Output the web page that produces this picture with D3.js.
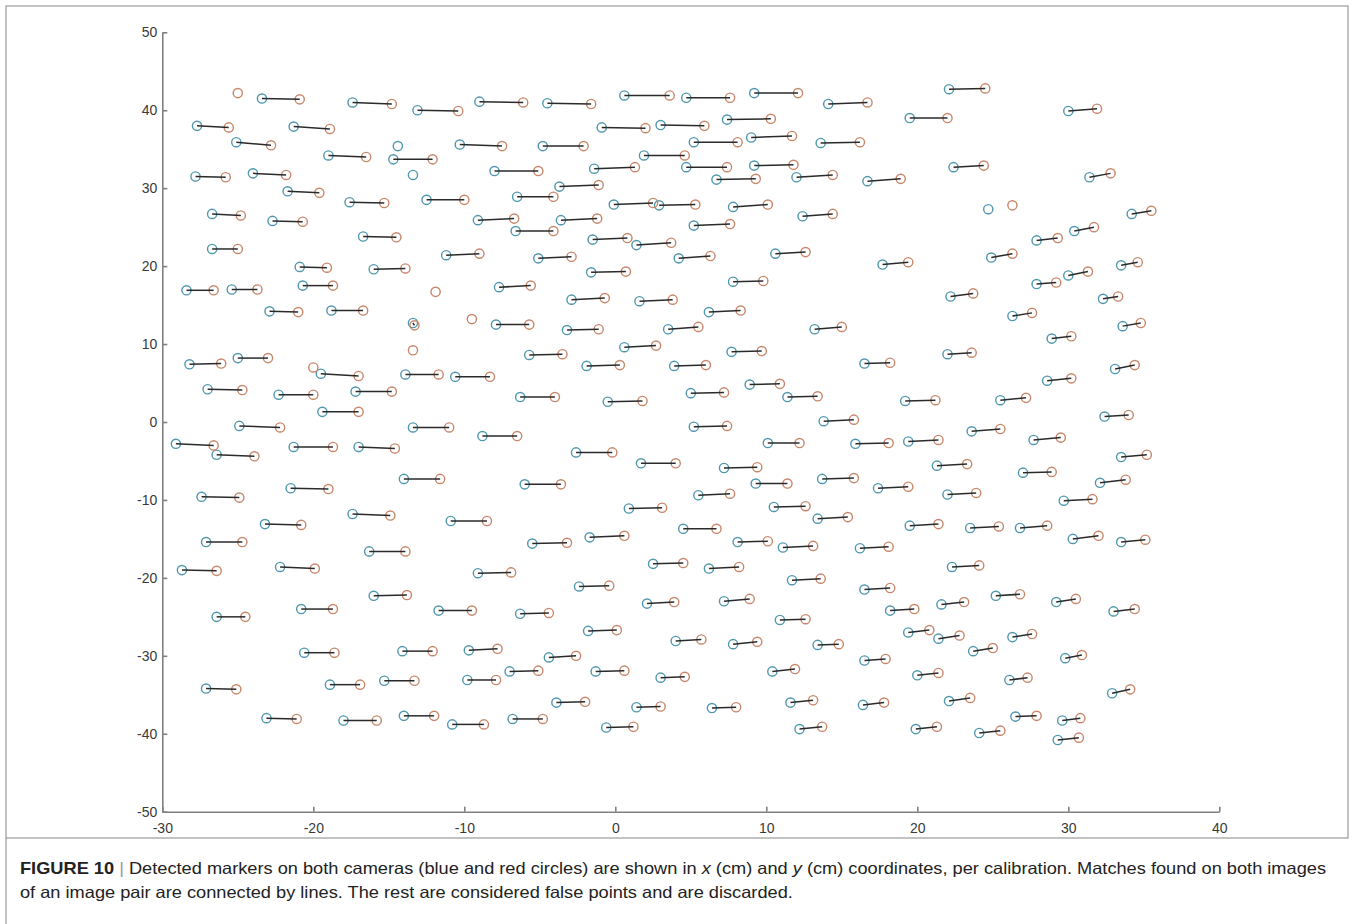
<!DOCTYPE html>
<html>
<head>
<meta charset="utf-8">
<script src="https://cdn.jsdelivr.net/npm/d3@7"></script>
<style>
  body { margin: 0; background: #fff; }
  svg { display: block; }
</style>
</head>
<body>
<svg id="fig" width="1354" height="924"></svg>
<script>
// Axis ticks (cm)
const xTicks = [-30, -20, -10, 0, 10, 20, 30, 40];
const yTicks = [-50, -40, -30, -20, -10, 0, 10, 20, 30, 40, 50];

// Matched markers: [blue x, blue y, red x, red y] in cm
const matchedPairs = [
  [-23.4,41.5,-20.9,41.4],[-17.4,41.0,-14.8,40.8],[-13.1,40.0,-10.4,39.9],[-9.0,41.1,-6.1,41.0],
  [-27.7,38.0,-25.6,37.8],[-21.3,37.9,-18.9,37.6],[-25.1,35.9,-22.8,35.5],[-10.3,35.6,-7.5,35.4],
  [-19.0,34.2,-16.5,34.0],[-14.7,33.7,-12.1,33.7],[-27.8,31.5,-25.8,31.4],[-24.0,31.9,-21.8,31.7],
  [-8.0,32.2,-5.1,32.2],[-21.7,29.6,-19.6,29.4],[-17.6,28.2,-15.3,28.1],[-12.5,28.5,-10.0,28.5],
  [-6.5,28.9,-4.1,28.9],[-26.7,26.7,-24.8,26.5],[-22.7,25.8,-20.7,25.7],[-9.1,25.9,-6.7,26.1],
  [-6.6,24.5,-4.1,24.5],[-16.7,23.8,-14.5,23.7],[-26.7,22.2,-25.0,22.2],[-11.2,21.4,-9.0,21.6],
  [-20.9,19.9,-19.1,19.8],[-16.0,19.6,-13.9,19.7],[-28.4,16.9,-26.6,16.9],[-25.4,17.0,-23.7,17.0],
  [-20.7,17.5,-18.7,17.5],[-7.7,17.3,-5.6,17.5],[-22.9,14.2,-21.0,14.1],[-18.8,14.3,-16.7,14.3],
  [-13.4,12.7,-13.3,12.4],[-7.9,12.5,-5.7,12.5],
  [-4.5,40.9,-1.6,40.8],[0.6,41.9,3.6,41.9],[4.7,41.6,7.6,41.6],[9.2,42.2,12.1,42.2],
  [14.1,40.8,16.7,41.0],[-0.9,37.8,2.0,37.7],[3.0,38.1,5.9,38.0],[7.4,38.8,10.3,38.9],
  [-4.8,35.4,-2.1,35.4],[5.2,35.9,8.1,35.9],[9.0,36.5,11.7,36.7],[13.6,35.8,16.2,35.9],
  [1.9,34.2,4.6,34.2],[-1.4,32.5,1.3,32.7],[4.7,32.7,7.4,32.7],[9.2,32.9,11.8,33.0],
  [6.7,31.1,9.3,31.2],[12.0,31.4,14.4,31.7],[16.7,30.9,18.9,31.2],[-3.7,30.2,-1.1,30.4],
  [-0.1,27.9,2.5,28.1],[2.9,27.8,5.3,27.9],[7.8,27.6,10.1,27.9],[12.4,26.4,14.4,26.7],
  [-3.6,25.9,-1.2,26.1],[5.2,25.2,7.6,25.4],[-1.5,23.4,0.8,23.6],[1.4,22.7,3.7,23.0],
  [-5.1,21.0,-2.9,21.2],[4.2,21.0,6.3,21.3],[10.6,21.6,12.6,21.8],[-1.6,19.2,0.7,19.3],
  [7.8,18.0,9.8,18.1],[-2.9,15.7,-0.7,15.9],[1.6,15.5,3.8,15.7],[6.2,14.1,8.3,14.3],
  [22.1,42.7,24.5,42.8],[30.0,39.9,31.9,40.2],[19.5,39.0,22.0,39.0],[22.4,32.7,24.4,32.9],
  [31.4,31.4,32.8,31.9],[34.2,26.7,35.5,27.1],[30.4,24.5,31.7,25.0],[27.9,23.3,29.3,23.6],
  [17.7,20.2,19.4,20.5],[24.9,21.1,26.3,21.6],[33.5,20.1,34.6,20.5],[30.0,18.8,31.3,19.3],
  [27.9,17.7,29.2,17.9],[22.2,16.1,23.7,16.5],[32.3,15.8,33.3,16.1],[26.3,13.6,27.6,14.0],
  [33.6,12.3,34.8,12.7],
  [-28.2,7.4,-26.1,7.5],[-25.0,8.2,-23.0,8.2],[-19.5,6.2,-17.0,5.9],[-13.9,6.1,-11.7,6.1],
  [-10.6,5.8,-8.3,5.8],[-27.0,4.2,-24.7,4.1],[-22.3,3.5,-20.0,3.5],[-17.2,3.9,-14.8,3.9],
  [-6.3,3.2,-4.0,3.2],[-19.4,1.3,-17.0,1.3],[-24.9,-0.5,-22.2,-0.7],[-13.4,-0.7,-11.0,-0.7],
  [-8.8,-1.8,-6.5,-1.8],[-29.1,-2.8,-26.6,-3.0],[-26.4,-4.2,-23.9,-4.4],[-21.3,-3.2,-18.7,-3.2],
  [-17.0,-3.2,-14.6,-3.4],[-14.0,-7.3,-11.6,-7.3],[-21.5,-8.5,-19.0,-8.6],[-27.4,-9.6,-24.9,-9.7],
  [-17.4,-11.8,-14.9,-12.0],[-10.9,-12.7,-8.5,-12.7],[-23.2,-13.1,-20.8,-13.2],[-27.1,-15.4,-24.7,-15.4],
  [-16.3,-16.6,-13.9,-16.6],[-28.7,-19.0,-26.4,-19.1],[-22.2,-18.6,-19.9,-18.8],[-9.1,-19.4,-6.9,-19.3],
  [-3.2,11.8,-1.1,11.9],[3.5,11.9,5.5,12.2],[13.2,11.9,15.0,12.2],[0.6,9.6,2.7,9.8],
  [-5.7,8.6,-3.5,8.7],[7.7,9.0,9.7,9.1],[-1.9,7.2,0.3,7.3],[3.9,7.2,6.0,7.3],
  [16.5,7.5,18.2,7.6],[-0.5,2.6,1.8,2.7],[5.0,3.7,7.2,3.8],[8.9,4.8,10.9,4.9],
  [11.4,3.2,13.4,3.3],[5.2,-0.6,7.4,-0.5],[13.8,0.1,15.8,0.3],[10.1,-2.7,12.2,-2.7],
  [15.9,-2.8,18.1,-2.7],[-2.6,-3.9,-0.2,-3.9],[1.7,-5.3,4.0,-5.3],[7.2,-5.9,9.4,-5.8],
  [-6.0,-8.0,-3.6,-8.0],[9.3,-7.9,11.4,-7.9],[13.7,-7.3,15.8,-7.2],[5.5,-9.4,7.6,-9.2],
  [0.9,-11.1,3.1,-11.0],[10.5,-10.9,12.6,-10.8],[13.4,-12.4,15.4,-12.2],[4.5,-13.7,6.7,-13.7],
  [-5.5,-15.6,-3.2,-15.5],[-1.7,-14.8,0.6,-14.6],[8.1,-15.4,10.1,-15.3],[11.1,-16.1,13.1,-15.9],
  [16.2,-16.2,18.1,-16.0],[2.5,-18.2,4.5,-18.1],[6.2,-18.8,8.2,-18.6],
  [28.9,10.7,30.2,11.0],[22.0,8.7,23.6,8.9],[33.1,6.8,34.4,7.3],[28.6,5.3,30.2,5.6],
  [19.2,2.7,21.2,2.8],[25.5,2.8,27.2,3.1],[32.4,0.7,34.0,0.9],[23.6,-1.2,25.5,-0.9],
  [27.7,-2.3,29.5,-2.0],[19.4,-2.5,21.4,-2.3],[33.5,-4.5,35.2,-4.2],[21.3,-5.6,23.3,-5.4],
  [27.0,-6.5,28.9,-6.4],[32.1,-7.8,33.8,-7.4],[17.4,-8.5,19.4,-8.3],[22.0,-9.3,23.9,-9.1],
  [29.7,-10.1,31.6,-9.9],[19.5,-13.3,21.4,-13.1],[23.5,-13.6,25.4,-13.4],[26.8,-13.6,28.6,-13.3],
  [30.3,-15.0,32.0,-14.6],[33.5,-15.4,35.1,-15.1],[22.3,-18.6,24.1,-18.4],
  [-16.0,-22.3,-13.8,-22.2],[-26.4,-25.0,-24.5,-25.0],[-20.8,-24.0,-18.7,-24.0],[-11.7,-24.2,-9.5,-24.2],
  [-6.3,-24.6,-4.4,-24.5],[-20.6,-29.6,-18.6,-29.6],[-14.1,-29.4,-12.1,-29.4],[-9.7,-29.3,-7.8,-29.1],
  [-7.0,-32.0,-5.1,-31.9],[-27.1,-34.2,-25.1,-34.3],[-18.9,-33.7,-16.9,-33.7],[-15.3,-33.2,-13.3,-33.2],
  [-9.8,-33.1,-7.9,-33.1],[-23.1,-38.0,-21.1,-38.1],[-18.0,-38.3,-15.8,-38.3],[-14.0,-37.7,-12.0,-37.7],
  [-10.8,-38.8,-8.7,-38.8],[-6.8,-38.1,-4.8,-38.1],
  [-2.4,-21.1,-0.4,-21.0],[11.7,-20.3,13.6,-20.1],[16.5,-21.5,18.2,-21.3],[2.1,-23.3,3.9,-23.1],
  [7.2,-23.0,8.9,-22.7],[10.9,-25.4,12.6,-25.3],[-1.8,-26.8,0.1,-26.7],[4.0,-28.1,5.7,-27.9],
  [7.8,-28.5,9.4,-28.2],[13.4,-28.6,14.8,-28.5],[-4.4,-30.2,-2.6,-30.0],[-1.3,-32.0,0.6,-31.9],
  [3.0,-32.8,4.6,-32.7],[10.4,-32.0,11.9,-31.7],[-3.9,-36.0,-2.0,-35.9],[1.4,-36.6,3.0,-36.5],
  [6.4,-36.7,8.0,-36.6],[11.6,-36.0,13.1,-35.7],[-0.6,-39.2,1.2,-39.1],[12.2,-39.4,13.7,-39.1],
  [18.2,-24.2,19.8,-24.0],[21.6,-23.4,23.1,-23.1],[25.2,-22.3,26.8,-22.1],[29.2,-23.1,30.5,-22.7],
  [33.0,-24.3,34.4,-24.0],[19.4,-27.0,20.8,-26.7],[21.4,-27.8,22.8,-27.4],[26.3,-27.6,27.6,-27.2],
  [23.7,-29.4,25.0,-29.0],[16.5,-30.6,17.9,-30.4],[29.8,-30.3,30.9,-29.9],[20.0,-32.5,21.4,-32.2],
  [26.1,-33.1,27.3,-32.8],[32.9,-34.8,34.1,-34.3],[16.4,-36.3,17.8,-36.0],[22.1,-35.8,23.5,-35.4],
  [26.5,-37.8,27.9,-37.7],[29.6,-38.3,30.8,-38.0],[19.9,-39.4,21.3,-39.1],[24.1,-39.9,25.5,-39.6],
  [29.3,-40.8,30.7,-40.5]
];

// Unmatched detections (false points)
const blueOnly = [[-14.4,35.4],[-13.4,31.7],[24.7,27.3]];
const redOnly = [[-25.0,42.2],[-11.9,16.7],[-9.5,13.2],[26.3,27.8],[-13.4,9.2],[-20.0,7.0]];

const captionLine1 = [
  {t: "FIGURE 10", w: "bold"},
  {t: " | ", c: "#999"},
  {t: "Detected markers on both cameras (blue and red circles) are shown in "},
  {t: "x", i: true},
  {t: " (cm) and "},
  {t: "y", i: true},
  {t: " (cm) coordinates, per calibration. Matches found on both images"}
];
const captionLine2 = "of an image pair are connected by lines. The rest are considered false points and are discarded.";

const svg = d3.select("#fig");
const BLUE = "#4f97ae", RED = "#c8866a", AXIS = "#808080", TEXT = "#3a3a3a";

// Figure frame
svg.append("rect").attr("x", 6).attr("y", 6).attr("width", 1342).attr("height", 832)
  .attr("fill", "none").attr("stroke", "#9a9a9a").attr("stroke-width", 1.2);
svg.append("line").attr("x1", 6).attr("x2", 6).attr("y1", 838).attr("y2", 924)
  .attr("stroke", "#9a9a9a").attr("stroke-width", 1.2);

const x = d3.scaleLinear().domain([-30, 40]).range([162.3, 1219.3]);
const y = d3.scaleLinear().domain([-50, 50]).range([811.7, 32.3]);

const axisFont = "'Liberation Sans', Arial, Helvetica, sans-serif";
const plainNum = d => String(d);   // hyphen-minus, as on the printed axes

const gx = svg.append("g").attr("transform", `translate(0,${y(-50)})`)
  .call(d3.axisBottom(x).tickValues(xTicks).tickFormat(plainNum)
    .tickSizeInner(-5).tickSizeOuter(0).tickPadding(11));
const gy = svg.append("g").attr("transform", `translate(${x(-30)},0)`)
  .call(d3.axisLeft(y).tickValues(yTicks).tickFormat(plainNum)
    .tickSizeInner(-5).tickSizeOuter(0).tickPadding(5));

[gx, gy].forEach(g => {
  g.select(".domain").attr("stroke", AXIS).attr("stroke-width", 1.6);
  g.selectAll(".tick line").attr("stroke", AXIS).attr("stroke-width", 1.6);
  g.selectAll(".tick text").attr("fill", TEXT).attr("font-size", 14)
    .attr("font-family", axisFont);
});

const plot = svg.append("g");

// Circles first, connecting lines drawn over them
plot.selectAll("circle.blue")
  .data(matchedPairs.map(d => [d[0], d[1]]).concat(blueOnly))
  .join("circle").attr("class", "blue")
  .attr("cx", d => x(d[0])).attr("cy", d => y(d[1])).attr("r", 4.6)
  .attr("fill", "none").attr("stroke", BLUE).attr("stroke-width", 1.4);

plot.selectAll("circle.red")
  .data(matchedPairs.map(d => [d[2], d[3]]).concat(redOnly))
  .join("circle").attr("class", "red")
  .attr("cx", d => x(d[0])).attr("cy", d => y(d[1])).attr("r", 4.6)
  .attr("fill", "none").attr("stroke", RED).attr("stroke-width", 1.4);

plot.selectAll("line.match")
  .data(matchedPairs)
  .join("line").attr("class", "match")
  .attr("x1", d => x(d[0])).attr("y1", d => y(d[1]))
  .attr("x2", d => x(d[2])).attr("y2", d => y(d[3]))
  .attr("stroke", "#2a2a2a").attr("stroke-width", 1.5);

// Caption: both lines share one horizontal condensing factor
const capFont = "'Liberation Sans Narrow', 'Arial Narrow', 'Liberation Sans', Arial, sans-serif";
const cap1 = svg.append("text").attr("x", 20).attr("y", 874)
  .attr("font-family", capFont).attr("font-size", 16.5).attr("fill", "#222");
captionLine1.forEach(s => {
  cap1.append("tspan").text(s.t)
    .attr("font-weight", s.w || null)
    .attr("font-style", s.i ? "italic" : null)
    .attr("fill", s.c || null);
});
const cap2 = svg.append("text").attr("x", 20).attr("y", 898)
  .attr("font-family", capFont).attr("font-size", 16.5).attr("fill", "#222")
  .text(captionLine2);

const w1 = cap1.node().getComputedTextLength();
const w2 = cap2.node().getComputedTextLength();
const k = 1306 / w1;
cap1.attr("textLength", w1 * k).attr("lengthAdjust", "spacingAndGlyphs");
cap2.attr("textLength", w2 * k).attr("lengthAdjust", "spacingAndGlyphs");
</script>
</body>
</html>
